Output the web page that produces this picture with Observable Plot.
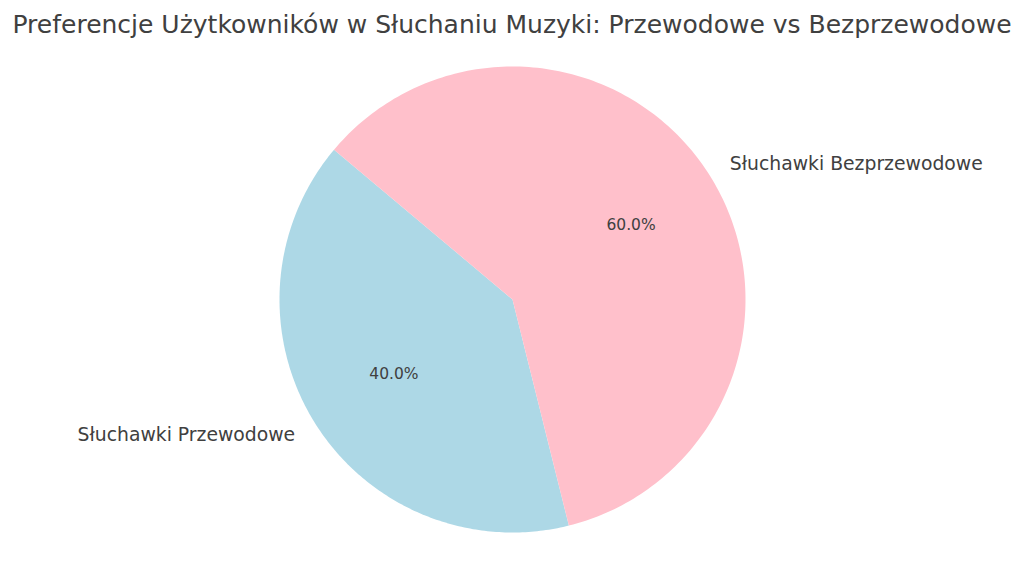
<!DOCTYPE html>
<html>
<head>
<meta charset="utf-8">
<script src="https://cdn.jsdelivr.net/npm/d3@7"></script>
<script src="https://cdn.jsdelivr.net/npm/@observablehq/plot@0.6"></script>
<style>
  html, body { margin: 0; padding: 0; background: #fff; }
  #title { width: 1024px; height: 50px; line-height: 50px; text-align: center;
           font-family: "DejaVu Sans", sans-serif; font-size: 25px; color: #404040; white-space: nowrap; }
  svg { display: block; }
</style>
</head>
<body>
<div id="title">Preferencje Użytkowników w Słuchaniu Muzyki: Przewodowe vs Bezprzewodowe</div>
<div id="chart"></div>
<script>
const categories = ["Słuchawki Przewodowe", "Słuchawki Bezprzewodowe"];
const shares = [40, 60];
const colors = ["#ADD8E6", "#FFC0CB"];
const startAngleDeg = 140;

const W = 1024, H = 523, R = 233, cx = 512, cy = 249;

// angles (matplotlib style: counterclockwise from +x axis)
const total = d3.sum(shares);
let acc = startAngleDeg;
const slices = categories.map((c, i) => {
  const a0 = acc;
  const a1 = acc + shares[i] / total * 360;
  acc = a1;
  return {category: c, value: shares[i], a0, a1, mid: (a0 + a1) / 2};
});

const rad = d => d * Math.PI / 180;
const polyPts = [];
slices.forEach(s => {
  polyPts.push({category: s.category, x: 0, y: 0});
  const n = 200;
  for (let k = 0; k <= n; k++) {
    const a = rad(s.a0 + (s.a1 - s.a0) * k / n);
    polyPts.push({category: s.category, x: Math.cos(a), y: Math.sin(a)});
  }
  polyPts.push({category: s.category, x: 0, y: 0});
});

const labels = slices.map(s => ({
  category: s.category,
  x: 1.1 * Math.cos(rad(s.mid)),
  y: 1.1 * Math.sin(rad(s.mid)),
  anchor: Math.cos(rad(s.mid)) >= 0 ? "start" : "end"
}));
const pcts = slices.map(s => ({
  text: (s.value / total * 100).toFixed(1) + "%",
  x: 0.6 * Math.cos(rad(s.mid)),
  y: 0.6 * Math.sin(rad(s.mid))
}));

const chart = Plot.plot({
  width: W, height: H,
  margin: 0,
  x: {domain: [-cx / R, (W - cx) / R], axis: null},
  y: {domain: [-(H - cy) / R, cy / R], axis: null},
  color: {domain: categories, range: colors},
  style: {fontFamily: "DejaVu Sans, sans-serif", background: "#fff"},
  marks: [
    Plot.line(polyPts, {x: "x", y: "y", z: "category", fill: "category", stroke: null, curve: "linear"}),
    Plot.text(labels.filter(d => d.anchor === "start"), {x: "x", y: "y", text: "category", textAnchor: "start", fontSize: 18.8, fill: "#404040"}),
    Plot.text(labels.filter(d => d.anchor === "end"), {x: "x", y: "y", text: "category", textAnchor: "end", fontSize: 18.8, fill: "#404040"}),
    Plot.text(pcts, {x: "x", y: "y", text: "text", fontSize: 15.5, fill: "#404040"})
  ]
});
document.getElementById("chart").appendChild(chart);
</script>
</body>
</html>
